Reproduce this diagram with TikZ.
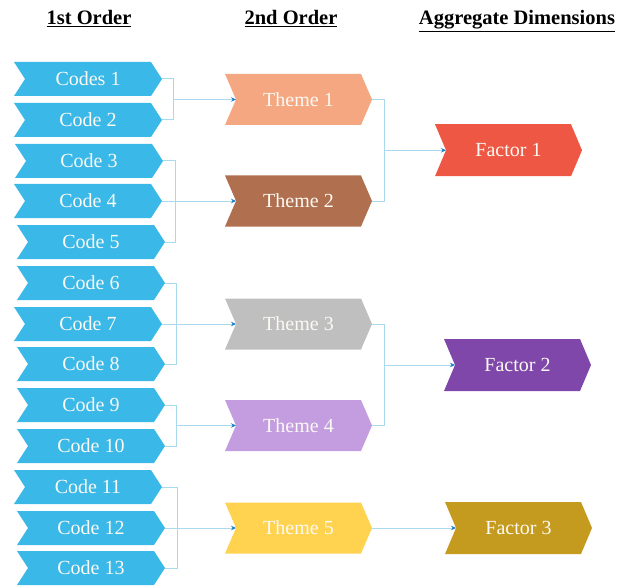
\documentclass[tikz,border=0pt]{standalone}
\usepackage{fontspec}
\setmainfont{Liberation Serif}
\usetikzlibrary{backgrounds,arrows.meta,calc}

\definecolor{codeblue}{HTML}{3AB8E8}
\definecolor{themeA}{HTML}{F5A781}
\definecolor{themeB}{HTML}{B0704F}
\definecolor{themeC}{HTML}{BFBFBF}
\definecolor{themeD}{HTML}{C39DE0}
\definecolor{themeE}{HTML}{FFD34F}
\definecolor{factorA}{HTML}{EF5745}
\definecolor{factorB}{HTML}{7F47AA}
\definecolor{factorC}{HTML}{C59B1F}
\definecolor{linkblue}{HTML}{A9D9EC}
\definecolor{tipblue}{HTML}{1F7EC2}
\definecolor{labeltext}{HTML}{FBF9F3}

\tikzset{
  lbl/.style={inner sep=0pt, outer sep=0pt, text=labeltext,
              font=\fontsize{20}{24}\selectfont},
  hdr/.style={inner sep=0pt, anchor=base, font=\fontsize{20.5}{24}\selectfont\bfseries},
  link/.style={draw=linkblue, line width=1pt},
  feed/.style={link, -{Stealth[length=5pt,width=4.5pt,color=tipblue]}}
}

% chevron box: name, left x, centre y, width, height, colour, text
\newcommand\chevbox[7]{%
  \node[lbl, minimum width=#4pt, minimum height=#5pt] (#1) at ({#2+#4/2},#3) {#7};
  \begin{pgfonlayer}{background}
    \fill[#6] (#1.north west) -- ([xshift=-11pt]#1.north east) -- (#1.east)
      -- ([xshift=-11pt]#1.south east) -- (#1.south west)
      -- ([xshift=11pt]#1.west) -- cycle;
  \end{pgfonlayer}
}

\begin{document}
\begin{tikzpicture}[x=1pt, y=-1pt]
\useasboundingbox (0,0) rectangle (617,585);

% column headings
\node[hdr] (h1) at (89,25)  {\underline{1st Order}};
\node[hdr] (h2) at (291,25) {\underline{2nd Order}};
\node[hdr] (h3) at (517,25) {\underline{Aggregate Dimensions}};

% first-order codes
\chevbox{c1}{14}{79}{148}{34}{codeblue}{Codes 1}
\chevbox{c2}{14}{120}{148}{34}{codeblue}{Code 2}
\chevbox{c3}{15}{161}{148}{34}{codeblue}{Code 3}
\chevbox{c4}{14}{201}{148}{34}{codeblue}{Code 4}
\chevbox{c5}{17}{242}{148}{34}{codeblue}{Code 5}
\chevbox{c6}{17}{283}{148}{34}{codeblue}{Code 6}
\chevbox{c7}{14}{324}{148}{34}{codeblue}{Code 7}
\chevbox{c8}{17}{364}{148}{34}{codeblue}{Code 8}
\chevbox{c9}{17}{405}{148}{34}{codeblue}{Code 9}
\chevbox{c10}{17}{446}{148}{34}{codeblue}{Code 10}
\chevbox{c11}{14}{487}{148}{34}{codeblue}{Code 11}
\chevbox{c12}{17}{528}{148}{34}{codeblue}{Code 12}
\chevbox{c13}{17}{568}{148}{34}{codeblue}{Code 13}

% second-order themes
\chevbox{t1}{225}{99.5}{147}{51}{themeA}{Theme 1}
\chevbox{t2}{225}{201}{147}{51}{themeB}{Theme 2}
\chevbox{t3}{225}{324}{147}{51}{themeC}{Theme 3}
\chevbox{t4}{225}{425.5}{147}{51}{themeD}{Theme 4}
\chevbox{t5}{225}{528}{147}{51}{themeE}{Theme 5}

% aggregate dimensions
\chevbox{f1}{435}{150.25}{147}{52}{factorA}{Factor 1}
\chevbox{f2}{444}{365}{147}{52}{factorB}{Factor 2}
\chevbox{f3}{445}{528}{147}{52}{factorC}{Factor 3}

% codes -> themes
\draw[link] (c1.east) -- ++(11,0) |- (c2.east);
\draw[feed] ($(c1.east)!0.5!(c2.east)+(11,0)$) -- ([xshift=11pt]t1.west);

\draw[link] (c3.east) -| ($(c5.east)+(10,0)$) -- (c5.east);
\draw[feed] (c4.east) -- ([xshift=11pt]t2.west);

\draw[link] (c6.east) -- ++(11,0) |- (c8.east);
\draw[feed] (c7.east) -- ([xshift=11pt]t3.west);

\draw[link] (c9.east) -- ++(11,0) |- (c10.east);
\draw[feed] ($(c9.east)!0.5!(c10.east)+(11,0)$) -- ([xshift=11pt]t4.west);

\draw[link] (c11.east) -| ($(c13.east)+(12,0)$) -- (c13.east);
\draw[feed] (c12.east) -- ([xshift=11pt]t5.west);

% themes -> factors
\draw[link] (t1.east) -- ++(12,0) |- (t2.east);
\draw[feed] ($(t1.east)!0.5!(t2.east)+(12,0)$) -- ([xshift=11pt]f1.west);

\draw[link] (t3.east) -- ++(12,0) |- (t4.east);
\path (t3.east) ++(12,0) coordinate (j2);
\draw[feed] (j2 |- f2.west) -- ([xshift=11pt]f2.west);

\draw[feed] (t5.east) -- ([xshift=11pt]f3.west);
\end{tikzpicture}
\end{document}
